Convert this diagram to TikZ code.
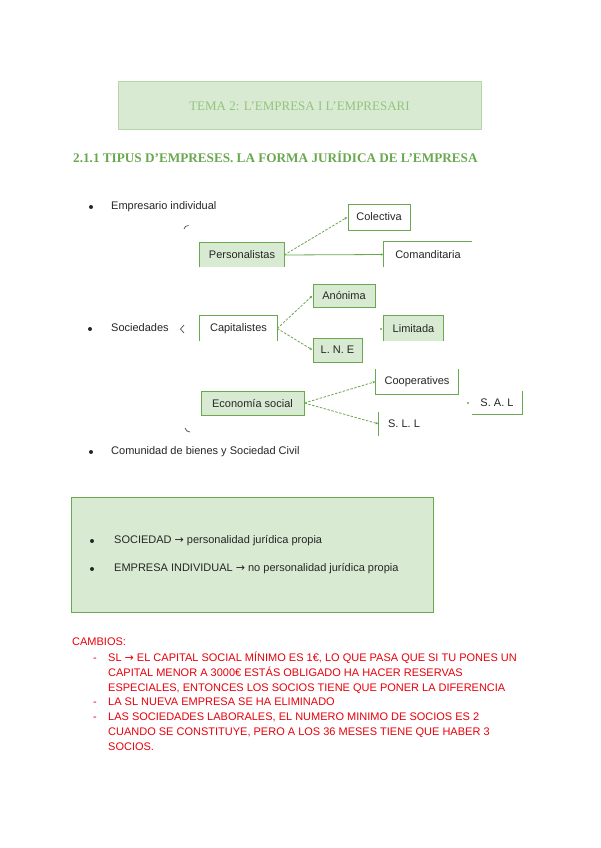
\documentclass[tikz,border=0pt]{standalone}
\usepackage{fontspec}
\setmainfont{Liberation Serif}
\newfontfamily\arial{Liberation Sans}
\newfontfamily\dejav{DejaVu Sans}
\usetikzlibrary{arrows.meta}
\definecolor{lgreen}{HTML}{D9EAD3}
\definecolor{dgreen}{HTML}{6AA84F}
\definecolor{tgreen}{HTML}{93C47D}
\definecolor{bgreen}{HTML}{B6D7A8}
\definecolor{redtxt}{HTML}{E8000B}
\newcommand{\rarr}{{\dejav\char"2192}}
\tikzset{
  box/.style={inner sep=0pt, font=\arial\fontsize{11}{13}\selectfont, text=black!85},
  gbox/.style={box, fill=lgreen},
  wbox/.style={box, fill=white},
  edge/.style={draw=dgreen, line width=0.8pt},
  conn/.style={draw=dgreen, line width=0.8pt, -{Latex[length=3pt,width=2.5pt]}},
  dconn/.style={conn, dash pattern=on 2.5pt off 1.5pt},
  txt/.style={anchor=west, inner sep=0pt, text height=8pt, text depth=2.5pt, font=\arial\fontsize{11}{13}\selectfont, text=black!85},
  bul/.style={circle, fill=black!85, inner sep=0pt, minimum size=4pt},
  red/.style={anchor=west, inner sep=0pt, text height=8pt, text depth=2.5pt, font=\arial\fontsize{11}{13}\selectfont, text=redtxt},
  brace/.style={draw=black!70, line width=0.7pt}
}
\begin{document}
\begin{tikzpicture}[x=1pt,y=-1pt]
\useasboundingbox (0,0) rectangle (600,848);
\fill[white] (0,0) rectangle (600,848);
% title
\node[draw=bgreen, fill=lgreen, line width=1pt, minimum width=363pt, minimum height=48pt, inner sep=0pt] (title) at (299.5,106) {};
\node[inner sep=0pt, font=\fontsize{13}{15}\selectfont, text=tgreen] (titletxt) at (299.5,106) {TEMA 2: L’EMPRESA I L’EMPRESARI};
\node[anchor=west, inner sep=0pt, font=\bfseries\fontsize{13.2}{15}\selectfont, text=dgreen] (head) at (73,157) {2.1.1 TIPUS D’EMPRESES. LA FORMA JURÍDICA DE L’EMPRESA};
% bullets
\node[bul] (b1) at (91,207) {};
\node[txt] (t1) at (111,207) {Empresario individual};
\node[bul] (b2) at (90,329) {};
\node[txt] (t2) at (111,329) {Sociedades};
\node[bul] (b3) at (91,452) {};
\node[txt] (t3) at (111,452) {Comunidad de bienes y Sociedad Civil};
% brace fragments
\draw[brace] (184,229) .. controls (185,226.5) .. (188.5,225.5);
\draw[brace] (184,325) -- (180.5,329) -- (184,333);
\draw[brace] (185,428) .. controls (186.5,431) .. (190,432);
% Personalistas
\node[gbox, minimum width=84pt, minimum height=24pt] (pers) at (242,255) {Personalistas};
\draw[edge] (pers.south west) -- (pers.north west) -- (pers.north east) -- (pers.south east);
\node[wbox, draw=dgreen, line width=0.8pt, minimum width=62pt, minimum height=26pt] (colec) at (379,217) {Colectiva};
\node[wbox, minimum width=88pt, minimum height=25pt] (coman) at (428,254.5) {Comanditaria};
\draw[edge] (coman.south west) -- (coman.north west) -- (coman.north east);
\draw[dconn] (pers.east) -- (colec.west);
\draw[conn] (pers.east) -- (coman.west);
% Capitalistes
\node[wbox, minimum width=77pt, minimum height=25pt] (capi) at (238.5,328.5) {Capitalistes};
\draw[edge] (capi.south west) -- (capi.north west) -- (capi.north east) -- (capi.south east);
\node[gbox, draw=dgreen, line width=0.8pt, minimum width=62pt, minimum height=23pt] (anon) at (344,295.5) {Anónima};
\node[gbox, draw=dgreen, line width=0.8pt, minimum width=49pt, minimum height=24pt] (lne) at (337.5,350) {L. N. E};
\node[gbox, minimum width=59pt, minimum height=25pt] (limi) at (413.5,328.5) {Limitada};
\draw[edge] (limi.south west) -- (limi.north west) -- (limi.north east) -- (limi.south east);
\coordinate (limidot) at (381,329);
\fill[dgreen] (limidot) circle (1.1pt);
\draw[dconn] (capi.east) -- (anon.west);
\draw[dconn] (capi.east) -- (lne.west);
% Economia social
\node[gbox, draw=dgreen, line width=0.8pt, minimum width=103pt, minimum height=24pt] (eco) at (252.5,403) {Economía social};
\node[wbox, minimum width=82pt, minimum height=25pt] (coop) at (417,381.5) {Cooperatives};
\draw[edge] (coop.north west) -- (coop.south west) -- (coop.south east) -- (coop.north east);
\node[wbox, minimum width=50pt, minimum height=24pt] (sll) at (404,424) {S. L. L};
\draw[edge] (sll.north west) -- (sll.south west);
\node[wbox, minimum width=50pt, minimum height=23pt] (sal) at (497,402.5) {S. A. L};
\draw[edge] (sal.south west) -- (sal.south east) -- (sal.north east);
\coordinate (saldot) at (468,403);
\fill[dgreen] (saldot) circle (1.1pt);
\draw[dconn] (eco.east) -- (coop.west);
\draw[dconn] (eco.east) -- (sll.west);
% green info box
\node[draw=dgreen, fill=lgreen, line width=1pt, minimum width=362pt, minimum height=115pt, inner sep=0pt] (info) at (252,554.5) {};
\node[bul] (ib1) at (92,541) {};
\node[txt] (it1) at (114,541) {SOCIEDAD \rarr{} personalidad jurídica propia};
\node[bul] (ib2) at (92,569) {};
\node[txt] (it2) at (114,569) {EMPRESA INDIVIDUAL \rarr{} no personalidad jurídica propia};
% red notes
\node[red] (r0) at (72,643) {CAMBIOS:};
\node[red] (d1) at (93,659) {-};
\node[red] (r1) at (108,659) {SL \rarr{} EL CAPITAL SOCIAL MÍNIMO ES 1€, LO QUE PASA QUE SI TU PONES UN};
\node[red] (r2) at (108,674) {CAPITAL MENOR A 3000€ ESTÁS OBLIGADO HA HACER RESERVAS};
\node[red] (r3) at (108,688.5) {ESPECIALES, ENTONCES LOS SOCIOS TIENE QUE PONER LA DIFERENCIA};
\node[red] (d2) at (93,703) {-};
\node[red] (r4) at (108,703) {LA SL NUEVA EMPRESA SE HA ELIMINADO};
\node[red] (d3) at (93,718) {-};
\node[red] (r5) at (108,718) {LAS SOCIEDADES LABORALES, EL NUMERO MINIMO DE SOCIOS ES 2};
\node[red] (r6) at (108,733) {CUANDO SE CONSTITUYE, PERO A LOS 36 MESES TIENE QUE HABER 3};
\node[red] (r7) at (108,748) {SOCIOS.};
\end{tikzpicture}
\end{document}
